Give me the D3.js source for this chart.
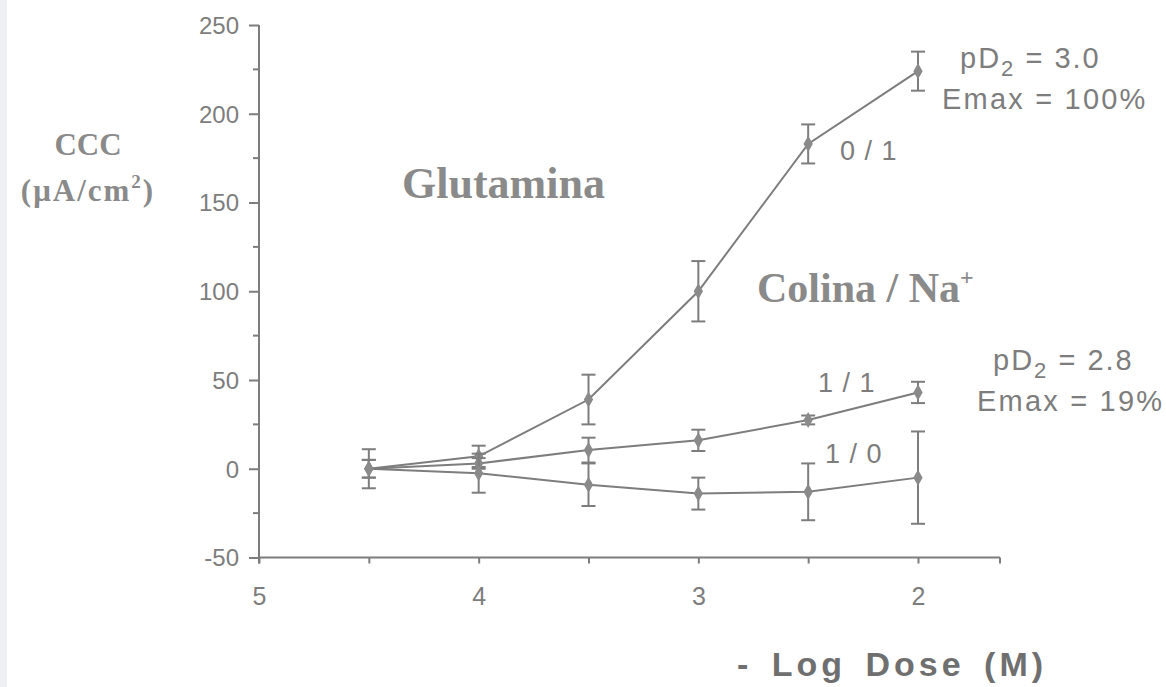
<!DOCTYPE html>
<html>
<head>
<meta charset="utf-8">
<script src="https://cdn.jsdelivr.net/npm/d3@7"></script>
<style>
  html, body { margin: 0; padding: 0; background: #fff; }
  svg { display: block; }
</style>
</head>
<body>
<svg id="chart" width="1166" height="687"></svg>
<script>
// Dose points (-log M) and responses for the three Colina/Na+ ratios
const doses = [4.5, 4, 3.5, 3, 2.5, 2];
const glutamina01 = [0, 7, 39, 100, 183, 224];
const glutamina01Err = [5, 6, 14, 17, 11, 11];
const colina11 = [0, 3, 10.5, 16, 27.5, 43];
const colina11Err = [5, 3, 7, 6, 2.5, 6];
const colina10 = [0, -2.5, -9, -14, -13, -5];
const colina10Err = [11, 11, 12, 9, 16, 26];

const xTicks = [5, 4, 3, 2];
const xMinorTicks = [4.5, 3.5, 2.5];
const yTicks = [-50, 0, 50, 100, 150, 200, 250];
const yMinorTicks = [-25, 25, 75, 125, 175, 225];

const ink = "#7d7d7d";
const svg = d3.select("#chart");

// faint scanner edge on the left
svg.append("rect").attr("x", 0).attr("y", 0).attr("width", 7).attr("height", 687)
  .attr("fill", "#eef1f4");

const x = d3.scaleLinear().domain([5, 2]).range([259, 918]);
const y = d3.scaleLinear().domain([-50, 250]).range([557.5, 25]);

const sans = "'Liberation Sans', Arial, sans-serif";
const serif = "'Liberation Serif', 'Times New Roman', serif";
const plainInt = d => String(d);   // keeps an ASCII hyphen for negatives

// ---- Y axis
const yAxis = d3.axisLeft(y).tickValues(yTicks).tickSize(10).tickPadding(10)
  .tickFormat(plainInt);
const gy = svg.append("g").attr("transform", `translate(${x(5)},0)`).call(yAxis);
gy.select(".domain").remove();
gy.append("line").attr("x1", 0).attr("x2", 0).attr("y1", y(250)).attr("y2", y(-50) + 6)
  .attr("stroke", ink).attr("stroke-width", 2);
gy.selectAll(".tick line").attr("stroke", ink).attr("stroke-width", 2);
gy.selectAll(".tick text").attr("fill", ink)
  .style("font-family", sans).style("font-size", "24px")
  .attr("dy", "0.35em");
gy.selectAll(".minor").data(yMinorTicks).enter().append("line")
  .attr("x1", -6).attr("x2", 0).attr("y1", d => y(d)).attr("y2", d => y(d))
  .attr("stroke", ink).attr("stroke-width", 2);

// ---- X axis
const xAxis = d3.axisBottom(x).tickValues(xTicks.concat(xMinorTicks)).tickSize(6)
  .tickPadding(24).tickFormat(d => xTicks.includes(d) ? plainInt(d) : "");
const gx = svg.append("g").attr("transform", `translate(0,${y(-50)})`).call(xAxis);
gx.select(".domain").remove();
gx.append("line").attr("x1", x(5)).attr("x2", 1000).attr("y1", 0).attr("y2", 0)
  .attr("stroke", ink).attr("stroke-width", 2);
gx.append("line").attr("x1", 1000).attr("x2", 1000).attr("y1", 0).attr("y2", 6)
  .attr("stroke", ink).attr("stroke-width", 2);
gx.selectAll(".tick line").attr("stroke", ink).attr("stroke-width", 2);
gx.selectAll(".tick text").attr("fill", ink)
  .style("font-family", sans).style("font-size", "25px");

// ---- series
const series = [
  { vals: glutamina01, err: glutamina01Err },
  { vals: colina11, err: colina11Err },
  { vals: colina10, err: colina10Err }
];
const line = d3.line().x(d => x(d.dose)).y(d => y(d.v));
const diamond = d3.symbol().type(d3.symbolDiamond).size(75);

series.forEach(s => {
  const pts = doses.map((dose, i) => ({ dose, v: s.vals[i], e: s.err[i] }));
  svg.append("path").datum(pts).attr("d", line)
    .attr("fill", "none").attr("stroke", ink).attr("stroke-width", 2);
  const eb = svg.append("g").selectAll("g").data(pts).enter().append("g")
    .attr("stroke", ink).attr("stroke-width", 2);
  eb.append("line").attr("x1", d => x(d.dose)).attr("x2", d => x(d.dose))
    .attr("y1", d => y(d.v + d.e)).attr("y2", d => y(d.v - d.e));
  eb.append("line").attr("x1", d => x(d.dose) - 7).attr("x2", d => x(d.dose) + 7)
    .attr("y1", d => y(d.v + d.e)).attr("y2", d => y(d.v + d.e));
  eb.append("line").attr("x1", d => x(d.dose) - 7).attr("x2", d => x(d.dose) + 7)
    .attr("y1", d => y(d.v - d.e)).attr("y2", d => y(d.v - d.e));
  svg.append("g").selectAll("path").data(pts).enter().append("path")
    .attr("d", diamond)
    .attr("transform", d => `translate(${x(d.dose)},${y(d.v)})`)
    .attr("fill", "#8a8a8a");
});

// ---- text
function txt(tx, ty, str, opts) {
  const t = svg.append("text").attr("x", tx).attr("y", ty).text(str)
    .attr("fill", opts.fill || ink)
    .style("font-family", opts.family || sans)
    .style("font-size", (opts.size || 24) + "px");
  if (opts.weight) t.style("font-weight", opts.weight);
  if (opts.ls) t.style("letter-spacing", opts.ls + "px");
  if (opts.ws) t.style("word-spacing", opts.ws + "px");
  if (opts.anchor) t.attr("text-anchor", opts.anchor);
  return t;
}

// Y axis title
txt(88, 155, "CCC", { family: serif, size: 31, weight: "bold", anchor: "middle", fill: "#8a8a8a" });
const unit = svg.append("text").attr("x", 88).attr("y", 201).attr("text-anchor", "middle")
  .attr("fill", "#8a8a8a").style("font-family", serif).style("font-size", "31px")
  .style("font-weight", "bold").style("letter-spacing", "2px");
unit.append("tspan").text("(\u03BCA/cm");
unit.append("tspan").attr("dy", -13).style("font-size", "19px").text("2");
unit.append("tspan").attr("dy", 13).text(")");

txt(402, 198, "Glutamina", { family: serif, size: 44, weight: "bold", fill: "#8a8a8a" });
const col = svg.append("text").attr("x", 757).attr("y", 302).attr("fill", "#8a8a8a")
  .style("font-family", serif).style("font-size", "42px").style("font-weight", "bold");
col.append("tspan").text("Colina / Na");
col.append("tspan").attr("dy", -17).style("font-size", "24px").text("+");

txt(840, 160, "0 / 1", { size: 27, ls: 1 });
txt(818, 392, "1 / 1", { size: 27, ls: 1 });
txt(825, 463, "1 / 0", { size: 27, ls: 1 });

function pd(tx, ty, val) {
  const t = svg.append("text").attr("x", tx).attr("y", ty).attr("fill", ink)
    .style("font-family", sans).style("font-size", "29px").style("letter-spacing", "2px");
  t.append("tspan").text("pD");
  t.append("tspan").attr("dy", 8).style("font-size", "22px").text("2");
  t.append("tspan").attr("dy", -8).text("  = " + val);
}
pd(960, 68, "3.0");
txt(942, 109, "Emax = 100%", { size: 29, ls: 2.2 });
pd(993, 370, "2.8");
txt(977, 411, "Emax = 19%", { size: 29, ls: 2.2 });

txt(737, 676, "- Log Dose (M)", { size: 34, weight: "bold", ls: 4, ws: 6, fill: "#6f6f6f" });
</script>
</body>
</html>
